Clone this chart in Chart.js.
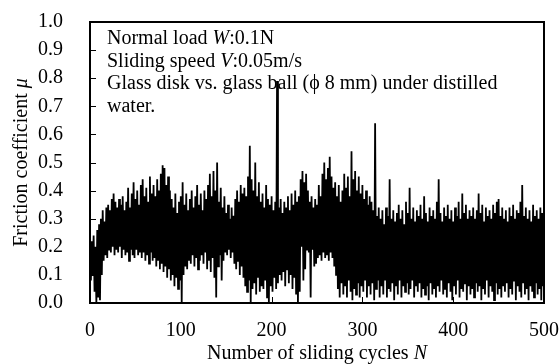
<!DOCTYPE html>
<html>
<head>
<meta charset="utf-8">
<script src="https://cdn.jsdelivr.net/npm/chart.js@4.4.1/dist/chart.umd.min.js"></script>
<style>
html,body{margin:0;padding:0;background:#fff;}
#wrap{width:560px;height:364px;position:relative;}
</style>
</head>
<body>
<div id="wrap"><canvas id="c" width="560" height="364"></canvas></div>
<script>
// Friction coefficient per sliding cycle N (0..500)
const frictionValues = [
0.16,0.08,0.22,0.10,0.24,0.04,0.20,0.00,0.26,0.02,
0.28,0.01,0.30,0.10,0.33,0.15,0.29,0.17,0.34,0.16,
0.35,0.19,0.33,0.18,0.37,0.20,0.39,0.17,0.36,0.19,
0.34,0.18,0.37,0.20,0.35,0.16,0.38,0.19,0.33,0.17,
0.36,0.18,0.41,0.15,0.34,0.19,0.39,0.17,0.43,0.16,
0.37,0.19,0.40,0.17,0.35,0.18,0.42,0.16,0.44,0.18,
0.38,0.15,0.41,0.17,0.36,0.14,0.45,0.18,0.39,0.15,
0.42,0.16,0.38,0.13,0.44,0.15,0.40,0.12,0.46,0.14,
0.49,0.11,0.48,0.13,0.42,0.09,0.45,0.12,0.40,0.08,
0.37,0.10,0.34,0.06,0.39,0.09,0.32,0.05,0.36,0.08,
0.38,0.00,0.43,0.10,0.35,0.13,0.39,0.12,0.33,0.15,
0.37,0.14,0.40,0.17,0.34,0.13,0.38,0.16,0.42,0.12,
0.35,0.15,0.39,0.17,0.33,0.14,0.40,0.18,0.37,0.12,
0.42,0.15,0.46,0.11,0.38,0.16,0.47,0.09,0.40,0.02,
0.50,0.13,0.36,0.17,0.41,0.08,0.34,0.15,0.38,0.18,
0.32,0.17,0.35,0.19,0.30,0.16,0.34,0.18,0.31,0.14,
0.37,0.12,0.40,0.15,0.36,0.10,0.42,0.13,0.39,0.09,
0.41,0.06,0.38,0.04,0.45,0.08,0.56,0.00,0.44,0.05,
0.40,0.07,0.50,0.03,0.38,0.09,0.43,0.04,0.36,0.06,
0.39,0.05,0.34,0.08,0.42,0.02,0.37,0.00,0.35,0.06,
0.38,0.04,0.33,0.09,0.36,0.05,0.79,0.07,0.34,0.10,
0.37,0.08,0.32,0.11,0.36,0.06,0.34,0.12,0.38,0.07,
0.33,0.10,0.39,0.05,0.35,0.09,0.40,0.03,0.36,0.00,
0.38,0.04,0.44,0.20,0.47,0.08,0.43,0.12,0.46,0.19,
0.40,0.18,0.36,0.02,0.38,0.19,0.34,0.13,0.37,0.14,
0.35,0.16,0.42,0.17,0.38,0.15,0.46,0.18,0.50,0.16,
0.44,0.17,0.48,0.15,0.52,0.18,0.45,0.16,0.41,0.13,
0.43,0.10,0.38,0.05,0.42,0.02,0.36,0.07,0.40,0.03,
0.46,0.06,0.41,0.02,0.45,0.08,0.38,0.04,0.54,0.01,
0.44,0.05,0.47,0.03,0.40,0.07,0.45,0.02,0.39,0.06,
0.42,0.04,0.37,0.08,0.40,0.02,0.35,0.06,0.38,0.03,
0.36,0.07,0.33,0.01,0.64,0.05,0.31,0.08,0.34,0.02,
0.30,0.06,0.33,0.03,0.28,0.08,0.34,0.02,0.31,0.05,
0.44,0.04,0.30,0.07,0.33,0.01,0.29,0.06,0.32,0.03,
0.35,0.08,0.30,0.02,0.33,0.06,0.28,0.04,0.36,0.07,
0.32,0.03,0.41,0.05,0.30,0.08,0.34,0.02,0.29,0.06,
0.33,0.04,0.31,0.07,0.35,0.02,0.30,0.05,0.38,0.03,
0.32,0.06,0.29,0.01,0.34,0.07,0.31,0.03,0.33,0.05,
0.30,0.02,0.36,0.06,0.44,0.04,0.32,0.08,0.29,0.03,
0.34,0.05,0.31,0.02,0.35,0.07,0.30,0.04,0.33,0.01,
0.29,0.06,0.34,0.03,0.31,0.08,0.36,0.02,0.30,0.05,
0.39,0.04,0.32,0.07,0.35,0.01,0.30,0.06,0.33,0.03,
0.31,0.05,0.34,0.02,0.30,0.07,0.33,0.04,0.39,0.06,
0.32,0.01,0.35,0.05,0.29,0.03,0.34,0.08,0.31,0.02,
0.33,0.06,0.30,0.04,0.35,0.01,0.32,0.07,0.36,0.03,
0.37,0.05,0.31,0.02,0.34,0.06,0.30,0.04,0.33,0.07,
0.29,0.02,0.34,0.05,0.31,0.03,0.35,0.08,0.30,0.01,
0.33,0.06,0.32,0.04,0.36,0.02,0.42,0.07,0.31,0.03,
0.34,0.05,0.30,0.01,0.33,0.06,0.29,0.04,0.35,0.02,
0.31,0.07,0.33,0.03,0.30,0.05,0.34,0.01,0.32,0.06,
0.30
];
const xTicks = [0, 100, 200, 300, 400, 500];
const yTicks = [0.0, 0.1, 0.2, 0.3, 0.4, 0.5, 0.6, 0.7, 0.8, 0.9, 1.0];
const annotationLines = [
  [["Normal load ", false], ["W", true], [":0.1N", false]],
  [["Sliding speed ", false], ["V", true], [":0.05m/s", false]],
  [["Glass disk vs. glass ball (\u03d5 8 mm) under distilled", false]],
  [["water.", false]]
];
const xTitle = [["Number of sliding cycles ", false], ["N", true]];
const yTitle = [["Friction coefficient ", false], ["\u03bc", true]];

const FONT = '"Liberation Serif", "Times New Roman", serif';

function drawRich(ctx, parts, x, y, size, align) {
  let total = 0;
  parts.forEach(p => { ctx.font = (p[1] ? 'italic ' : '') + size + 'px ' + FONT; total += ctx.measureText(p[0]).width; });
  let cx = align === 'center' ? x - total / 2 : x;
  ctx.textAlign = 'left';
  parts.forEach(p => {
    ctx.font = (p[1] ? 'italic ' : '') + size + 'px ' + FONT;
    ctx.fillText(p[0], cx, y);
    cx += ctx.measureText(p[0]).width;
  });
}

function zeroPad(s) { s.paddingTop = 0; s.paddingBottom = 0; s.paddingLeft = 0; s.paddingRight = 0; }

const decor = {
  id: 'decor',
  afterDraw(chart) {
    const ctx = chart.ctx, a = chart.chartArea;
    const xs = chart.scales.x, ys = chart.scales.y;
    ctx.save();
    ctx.strokeStyle = '#000';
    ctx.lineWidth = 1;
    ctx.beginPath();
    yTicks.forEach(v => {
      const py = Math.round(ys.getPixelForValue(v)) + 0.5;
      ctx.moveTo(a.left, py); ctx.lineTo(a.left + 6, py);
    });
    xTicks.forEach(v => {
      const px = Math.round(xs.getPixelForValue(v)) + 0.5;
      ctx.moveTo(px, a.bottom); ctx.lineTo(px, a.bottom - 6);
    });
    ctx.stroke();
    ctx.lineWidth = 2;
    ctx.strokeRect(a.left, a.top, a.right - a.left, a.bottom - a.top);
    ctx.fillStyle = '#000';
    ctx.textBaseline = 'alphabetic';
    annotationLines.forEach((ln, i) => drawRich(ctx, ln, 107, 44 + i * 22.5, 20, 'left'));
    drawRich(ctx, xTitle, (a.left + a.right) / 2, 359, 20, 'center');
    ctx.translate(27, (a.top + a.bottom) / 2);
    ctx.rotate(-Math.PI / 2);
    drawRich(ctx, yTitle, 0, 0, 20, 'center');
    ctx.restore();
  }
};

new Chart(document.getElementById('c'), {
  type: 'line',
  data: {
    datasets: [{
      data: frictionValues.map((v, i) => ({ x: i, y: v })),
      borderColor: '#000',
      borderWidth: 1.8,
      pointRadius: 0,
      tension: 0,
      fill: false
    }]
  },
  options: {
    responsive: false,
    animation: false,
    events: [],
    layout: { padding: { top: 22, right: 16, left: 0, bottom: 0 } },
    plugins: { legend: { display: false }, tooltip: { enabled: false } },
    scales: {
      x: {
        type: 'linear', min: 0, max: 500,
        afterFit: s => { s.height = 61; zeroPad(s); },
        afterBuildTicks: s => { s.ticks = xTicks.map(v => ({ value: v })); },
        grid: { display: false, drawTicks: false },
        border: { display: false },
        ticks: { padding: 16, color: '#000', font: { family: FONT, size: 20 }, maxRotation: 0, autoSkip: false, callback: v => String(v) }
      },
      y: {
        type: 'linear', min: 0, max: 1,
        afterFit: s => { s.width = 90; zeroPad(s); },
        afterBuildTicks: s => { s.ticks = yTicks.map(v => ({ value: v })); },
        grid: { display: false, drawTicks: false },
        border: { display: false },
        ticks: { padding: 27, color: '#000', font: { family: FONT, size: 20 }, autoSkip: false, callback: v => v.toFixed(1) }
      }
    }
  },
  plugins: [decor]
});
</script>
</body>
</html>
